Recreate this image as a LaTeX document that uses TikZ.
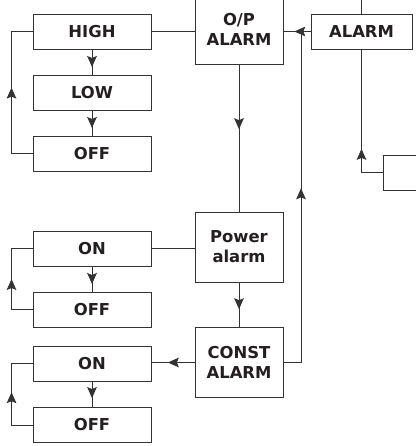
\documentclass[tikz,border=0pt]{standalone}
\usepackage{fontspec}
\setmainfont{DejaVu Sans}
\usetikzlibrary{arrows.meta,decorations.markings}

\definecolor{ink}{HTML}{333333}
\definecolor{txt}{HTML}{231F20}

\tikzset{
  menu/.style={draw=ink, line width=0.8pt, text=txt, font=\bfseries\fontsize{14}{17}\selectfont,
    minimum width=3.54cm, minimum height=1.05cm, inner sep=0pt, align=center},
  big/.style={menu, minimum width=2.64cm, minimum height=2.1cm},
  wire/.style={color=ink, line width=0.8pt},
  arr/.style={postaction={decorate}, decoration={markings,
    mark=at position #1 with {\arrow{Stealth[length=3.3mm,width=2.9mm,inset=0.6mm]}}}},
}

\begin{document}
\begin{tikzpicture}[x=0.03cm, y=0.03cm]
  \useasboundingbox (0,0) rectangle (415,446);

  \node[menu] (high) at (92,414.5) {HIGH};
  \node[menu] (low) at (92,353.5) {LOW};
  \node[menu] (off) at (92,292.5) {OFF};
  \node[menu] (on1) at (92,197.5) {ON};
  \node[menu] (offa) at (92,136.5) {OFF};
  \node[menu] (on2) at (92,82.5) {ON};
  \node[menu] (offb) at (92,21) {OFF};

  \node[big] (op) at (239,417) {O/P\\ALARM};
  \node[big] (pwr) at (239,199) {Power\\alarm};
  \node[big] (const) at (239,83.5) {CONST\\ALARM};

  \node[menu, minimum width=3.03cm] (alarm) at (361.5,414.5) {ALARM};
  \node[menu, minimum width=1.8cm] (side) at (413,273.5) {};
  \coordinate (jn) at (301,414.5);

  \draw[wire] (high.east) -- (high.east -| op.west);
  \draw[wire, arr=0.7] (high) -- (low);
  \draw[wire, arr=0.7] (low) -- (off);
  \draw[wire, arr=0.53] (off.west) -- ++(-21,0) |- (high.west);

  \draw[wire, arr=0.44] (op) -- (pwr);
  \draw[wire, arr=0.6] (pwr) -- (const);

  \draw[wire] (on1.east) -- (on1.east -| pwr.west);
  \draw[wire, arr=0.7] (on1) -- (offa);
  \draw[wire, arr=0.5] (offa.west) -- ++(-21,0) |- (on1.west);

  \draw[wire, arr=0.62] (const.west) -- (const.west -| on2.east);
  \draw[wire, arr=0.65] (on2) -- (offb);
  \draw[wire, arr=0.52] (offb.west) -- ++(-21,0) |- (on2.west);

  \draw[wire, arr=0.6] (alarm.west) -- (alarm.west -| op.east);
  \draw[wire, arr=0.55] (const.east) -| (jn);
  \draw[wire, arr=0.31] (side.west) -| (alarm.south);
  \draw[wire] (alarm.north) -- ++(0,40);
\end{tikzpicture}
\end{document}
